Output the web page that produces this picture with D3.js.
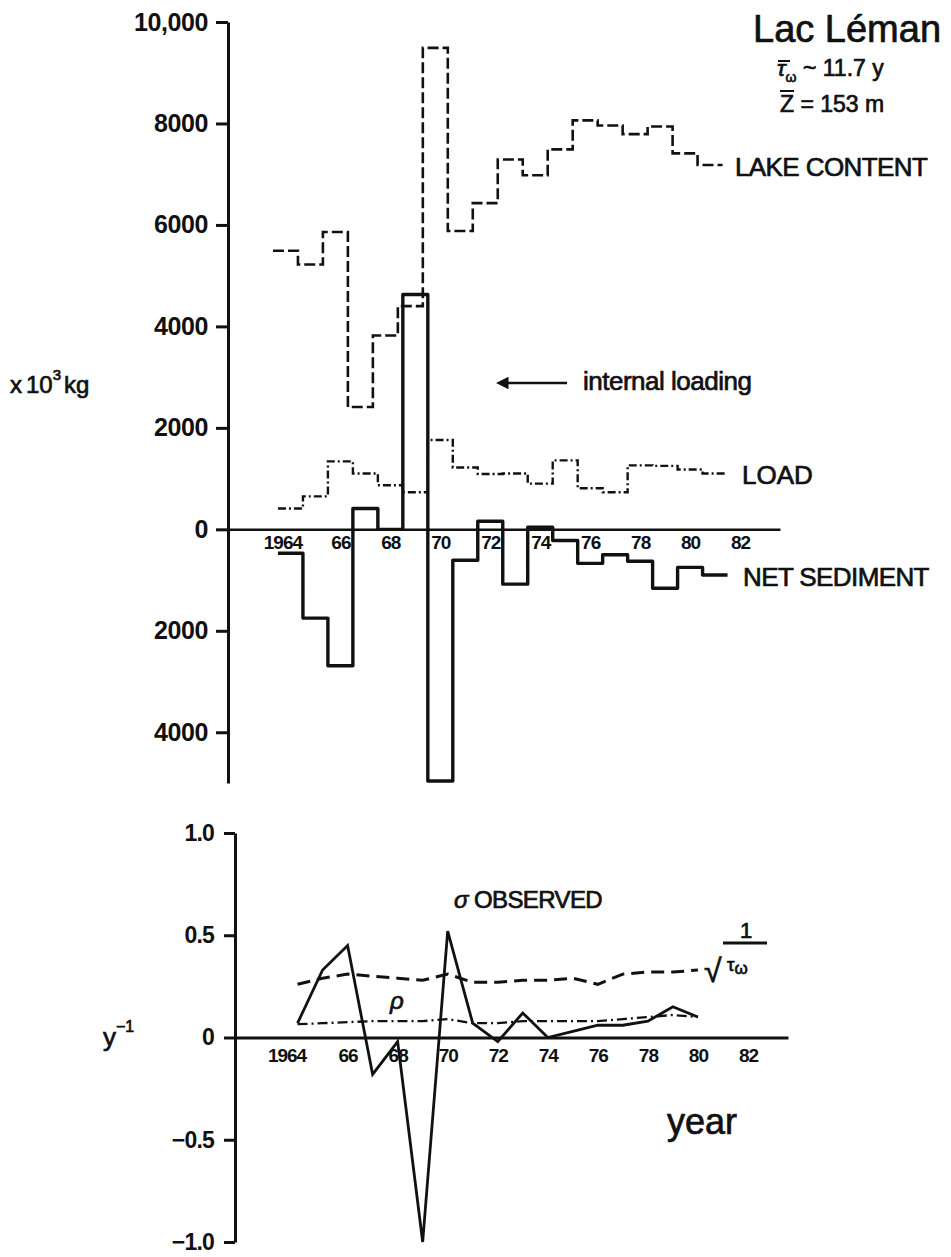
<!DOCTYPE html>
<html>
<head>
<meta charset="utf-8">
<script src="https://cdn.jsdelivr.net/npm/d3@7"></script>
<style>
  body { margin: 0; background: #fff; }
  svg text { font-family: "Liberation Sans", Arial, Helvetica, sans-serif; fill: #111; }
  .lbl { stroke: #111; stroke-width: 0.7px; }
  .tick text { font-weight: bold; }
</style>
</head>
<body>
<div id="chart"></div>
<script>
// upper panel: yearly values (x 10^3 kg)
const years = [1964, 1965, 1966, 1967, 1968, 1969, 1970, 1971, 1972,
               1973, 1974, 1975, 1976, 1977, 1978, 1979, 1980, 1981];
const lakeContent = [5490, 5220, 5860, 2410, 3820, 4400, 9490, 5880, 6430,
                     7290, 6980, 7490, 8060, 7960, 7790, 7940, 7410, 7180];
const load = [410, 650, 1340, 1100, 870, 730, 1760, 1220, 1090,
              1100, 900, 1360, 810, 730, 1260, 1250, 1180, 1100];
const netSediment = [-470, -1750, -2690, 410, 0, 4630, -4960, -610, 160,
                     -1080, 40, -220, -670, -500, -630, -1160, -750, -900];

// lower panel: rates (1/y)
const rateYears = [1964, 1965, 1966, 1967, 1968, 1969, 1970, 1971, 1972,
                   1973, 1974, 1975, 1976, 1977, 1978, 1979, 1980];
const sigmaObserved = [0.07, 0.33, 0.45, -0.18, -0.02, -1.0, 0.52, 0.07, -0.02,
                       0.12, 0.0, 0.03, 0.06, 0.06, 0.08, 0.15, 0.10];
const invSqrtTau = [0.26, 0.29, 0.31, 0.30, 0.29, 0.28, 0.31, 0.27, 0.27,
                    0.28, 0.28, 0.29, 0.26, 0.31, 0.32, 0.32, 0.33];
const rho = [0.065, 0.07, 0.075, 0.08, 0.08, 0.08, 0.09, 0.07, 0.07,
             0.08, 0.08, 0.08, 0.08, 0.09, 0.10, 0.11, 0.10];

// ticks
const massTicks = [10000, 8000, 6000, 4000, 2000, 0, -2000, -4000];
const massTickLabels = ["10,000", "8000", "6000", "4000", "2000", "0", "2000", "4000"];
const yearTicks = [1964, 1966, 1968, 1970, 1972, 1974, 1976, 1978, 1980, 1982];
const yearTickLabels = ["1964", "66", "68", "70", "72", "74", "76", "78", "80", "82"];
const rateTicks = [1, 0.5, 0, -0.5, -1];
const rateTickLabels = ["1.0", "0.5", "0", "\u22120.5", "\u22121.0"];

const LAKE_SHIFT = -0.2; // lake content steps sit a little left of the others in the original

function createChart() {
    const svg = d3.select("#chart").append("svg")
        .attr("width", 951)
        .attr("height", 1257);

    // ---------- upper panel ----------
    const xTop = d3.scaleLinear().domain([1961.5, 1983.6]).range([228, 780]);
    const yTop = d3.scaleLinear().domain([-5000, 10000]).range([783, 22]);

    const yAxisTop = svg.append("g")
        .attr("transform", "translate(" + xTop(1961.5) + ",0)")
        .call(d3.axisLeft(yTop).tickValues(massTicks)
            .tickFormat((d, i) => massTickLabels[i])
            .tickSize(12).tickSizeOuter(0).tickPadding(8));
    yAxisTop.selectAll("path, line").attr("stroke", "#111").attr("stroke-width", 3);
    yAxisTop.selectAll("text").attr("font-size", 25).attr("letter-spacing", -0.4);

    const xAxisTop = svg.append("g")
        .attr("transform", "translate(0," + yTop(0) + ")")
        .call(d3.axisBottom(xTop).tickValues(yearTicks)
            .tickFormat((d, i) => yearTickLabels[i])
            .tickSize(0).tickSizeOuter(0).tickPadding(6));
    xAxisTop.select(".domain").attr("stroke", "#111").attr("stroke-width", 2.5);
    xAxisTop.selectAll("text").attr("font-size", 19).attr("letter-spacing", -1)
        .attr("dx", (d, i) => i === 0 ? -8 : 0);

    // steps centred on each year
    function stepPoints(xs, vals, shift) {
        const pts = xs.map((yr, i) => [yr - 0.5 + shift, vals[i]]);
        pts.push([xs[xs.length - 1] + 0.5 + shift, vals[vals.length - 1]]);
        return pts;
    }
    const stepLine = d3.line()
        .x(d => xTop(d[0]))
        .y(d => yTop(d[1]))
        .curve(d3.curveStepAfter);

    svg.append("path")
        .attr("d", stepLine(stepPoints(years, lakeContent, LAKE_SHIFT)))
        .attr("fill", "none").attr("stroke", "#111").attr("stroke-width", 2.6)
        .attr("stroke-dasharray", "11,4");

    svg.append("path")
        .attr("d", stepLine(stepPoints(years, load, 0)))
        .attr("fill", "none").attr("stroke", "#111").attr("stroke-width", 2.4)
        .attr("stroke-dasharray", "8,3,2,3");

    svg.append("path")
        .attr("d", stepLine(stepPoints(years, netSediment, 0)))
        .attr("fill", "none").attr("stroke", "#111").attr("stroke-width", 3.4)
        .attr("stroke-linejoin", "round");

    // ---------- lower panel ----------
    const xBot = d3.scaleLinear().domain([1961.5, 1983.6]).range([235, 788]);
    const yBot = d3.scaleLinear().domain([-1, 1]).range([1242, 833]);

    const yAxisBot = svg.append("g")
        .attr("transform", "translate(" + xBot(1961.5) + ",0)")
        .call(d3.axisLeft(yBot).tickValues(rateTicks)
            .tickFormat((d, i) => rateTickLabels[i])
            .tickSize(11).tickSizeOuter(0).tickPadding(10));
    yAxisBot.selectAll("path, line").attr("stroke", "#111").attr("stroke-width", 3);
    yAxisBot.selectAll("text").attr("font-size", 23).attr("letter-spacing", -0.8);

    const xAxisBot = svg.append("g")
        .attr("transform", "translate(0," + yBot(0) + ")")
        .call(d3.axisBottom(xBot).tickValues(yearTicks)
            .tickFormat((d, i) => yearTickLabels[i])
            .tickSize(0).tickSizeOuter(0).tickPadding(11));
    xAxisBot.select(".domain").attr("stroke", "#111").attr("stroke-width", 3);
    xAxisBot.selectAll("text").attr("font-size", 19).attr("letter-spacing", -1)
        .attr("dx", (d, i) => i === 0 ? -11 : 0);

    const rateLine = d3.line()
        .x((d, i) => xBot(rateYears[i]))
        .y(d => yBot(d));

    svg.append("path")
        .attr("d", rateLine(invSqrtTau))
        .attr("fill", "none").attr("stroke", "#111").attr("stroke-width", 3)
        .attr("stroke-dasharray", "13,7");

    svg.append("path")
        .attr("d", rateLine(rho))
        .attr("fill", "none").attr("stroke", "#111").attr("stroke-width", 2.3)
        .attr("stroke-dasharray", "10,4,2,4");

    svg.append("path")
        .attr("d", rateLine(sigmaObserved))
        .attr("fill", "none").attr("stroke", "#111").attr("stroke-width", 2.8)
        .attr("stroke-linejoin", "miter");

    // ---------- annotations ----------
    svg.append("text").attr("class", "lbl")
        .attr("x", 753).attr("y", 42).attr("font-size", 38)
        .text("Lac Léman");

    const tau = svg.append("text").attr("class", "lbl")
        .attr("x", 777).attr("y", 76).attr("font-size", 23);
    tau.append("tspan").attr("font-style", "italic").text("τ");
    tau.append("tspan").attr("font-size", 14).attr("dy", 6).text("ω");
    tau.append("tspan").attr("dy", -6).text(" ~ 11.7 y");
    svg.append("line").attr("x1", 778).attr("x2", 790).attr("y1", 61).attr("y2", 61)
        .attr("stroke", "#111").attr("stroke-width", 2);

    svg.append("text").attr("class", "lbl")
        .attr("x", 780).attr("y", 112).attr("font-size", 23)
        .text("Z = 153 m");
    svg.append("line").attr("x1", 780).attr("x2", 794).attr("y1", 91).attr("y2", 91)
        .attr("stroke", "#111").attr("stroke-width", 2);

    svg.append("text").attr("class", "lbl")
        .attr("x", 735).attr("y", 176).attr("font-size", 26)
        .attr("letter-spacing", -0.6)
        .text("LAKE CONTENT");

    svg.append("defs").append("marker")
        .attr("id", "arrow").attr("viewBox", "0 0 10 10")
        .attr("refX", 2).attr("refY", 5)
        .attr("markerWidth", 5).attr("markerHeight", 5)
        .attr("orient", "auto-start-reverse")
        .append("path").attr("d", "M0,0 L10,5 L0,10 z").attr("fill", "#111");
    svg.append("line")
        .attr("x1", 567).attr("x2", 506).attr("y1", 383).attr("y2", 383)
        .attr("stroke", "#111").attr("stroke-width", 2.5)
        .attr("marker-end", "url(#arrow)");
    svg.append("text").attr("class", "lbl")
        .attr("x", 583).attr("y", 390).attr("font-size", 26)
        .attr("letter-spacing", -0.5)
        .text("internal loading");

    svg.append("text").attr("class", "lbl")
        .attr("x", 742).attr("y", 484).attr("font-size", 26)
        .text("LOAD");

    svg.append("text").attr("class", "lbl")
        .attr("x", 743).attr("y", 586).attr("font-size", 26)
        .attr("letter-spacing", -0.6)
        .text("NET SEDIMENT");

    const unit = svg.append("text").attr("class", "lbl")
        .attr("x", 10).attr("y", 393).attr("font-size", 24);
    unit.append("tspan").text("x");
    unit.append("tspan").attr("dx", 4).text("10");
    unit.append("tspan").attr("font-size", 15).attr("dy", -13).text("3");
    unit.append("tspan").attr("dy", 13).attr("dx", 3).text("kg");

    const sig = svg.append("text").attr("class", "lbl")
        .attr("x", 454).attr("y", 908).attr("font-size", 24)
        .attr("letter-spacing", -0.6);
    sig.append("tspan").attr("font-style", "italic").text("σ");
    sig.append("tspan").text(" OBSERVED");

    svg.append("text").attr("class", "lbl")
        .attr("x", 390).attr("y", 1009).attr("font-size", 24)
        .attr("font-style", "italic")
        .text("ρ");

    // 1 / sqrt(tau_w)
    svg.append("text").attr("class", "lbl")
        .attr("x", 746).attr("y", 938).attr("font-size", 22)
        .attr("text-anchor", "middle").text("1");
    svg.append("line").attr("x1", 723).attr("x2", 767).attr("y1", 943).attr("y2", 943)
        .attr("stroke", "#111").attr("stroke-width", 3);
    svg.append("text").attr("class", "lbl")
        .attr("x", 704).attr("y", 982).attr("font-size", 32).text("√");
    const tw = svg.append("text").attr("class", "lbl")
        .attr("x", 727).attr("y", 971).attr("font-size", 19);
    tw.append("tspan").text("τ");
    tw.append("tspan").attr("font-size", 17).attr("dy", 3).text("ω");

    const yinv = svg.append("text").attr("class", "lbl")
        .attr("x", 103).attr("y", 1046).attr("font-size", 26);
    yinv.append("tspan").text("y");
    yinv.append("tspan").attr("font-size", 16).attr("dy", -14).text("−1");

    svg.append("text").attr("class", "lbl")
        .attr("x", 667).attr("y", 1134).attr("font-size", 36)
        .text("year");
}

document.addEventListener("DOMContentLoaded", () => {
    createChart();
});
</script>
</body>
</html>
